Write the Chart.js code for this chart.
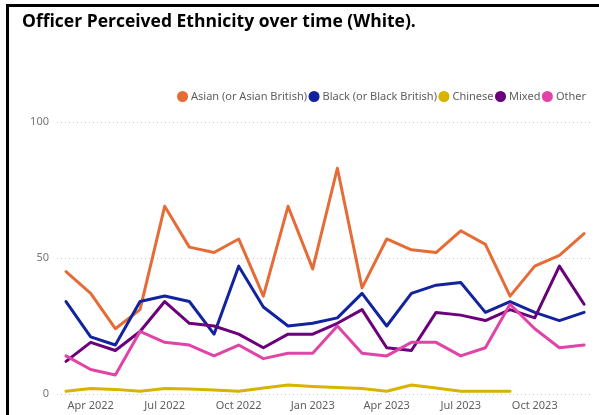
<!DOCTYPE html>
<html>
<head>
<meta charset="utf-8">
<script src="https://cdn.jsdelivr.net/npm/chart.js@4"></script>
<style>
  html, body { margin: 0; padding: 0; background: #fff; }
  #wrap { position: relative; width: 599px; height: 415px; overflow: hidden; }
  #frame { position: absolute; left: 6px; top: 4px; right: -10px; bottom: -10px;
           border-left: 3px solid #000; border-top: 3px solid #000; }
  #title { position: absolute; left: 22px; top: 9px; font-family: 'Open Sans', sans-serif;
           font-weight: bold; font-size: 17.5px; line-height: 22px; color: #000; white-space: nowrap; }
  canvas { position: absolute; left: 0; top: 0; }
</style>
</head>
<body>
<div id="wrap">
  <canvas id="c" width="599" height="415"></canvas>
  <div id="frame"></div>
  <div id="title">Officer Perceived Ethnicity over time (White).</div>
</div>
<script>
// Monthly counts by officer-perceived ethnicity
const months = ['Mar 2022','Apr 2022','May 2022','Jun 2022','Jul 2022','Aug 2022','Sep 2022','Oct 2022',
                'Nov 2022','Dec 2022','Jan 2023','Feb 2023','Mar 2023','Apr 2023','May 2023','Jun 2023',
                'Jul 2023','Aug 2023','Sep 2023','Oct 2023','Nov 2023','Dec 2023'];
const asian   = [45, 37, 24, 31, 69, 54, 52, 57, 36, 69, 46, 83, 39, 57, 53, 52, 60, 55, 36, 47, 51, 59];
const black   = [34, 21, 18, 34, 36, 34, 22, 47, 32, 25, 26, 28, 37, 25, 37, 40, 41, 30, 34, 30, 27, 30];
const chinese = [1, 2, 1.7, 1, 2, 1.8, 1.5, 1, 2.2, 3.3, 2.8, 2.4, 2, 1, 3.3, 2.2, 1, 1, 1, null, null, null];
const mixed   = [12, 19, 16, 23, 34, 26, 25, 22, 17, 22, 22, 26, 31, 17, 16, 30, 29, 27, 31, 28, 47, 33];
const other   = [14, 9, 7, 23, 19, 18, 14, 18, 13, 15, 15, 25, 15, 14, 19, 19, 14, 17, 33, 24, 17, 18];
const yTicks  = [0, 50, 100];
const xTickIdx = [1, 4, 7, 10, 13, 16, 19];

const series = [
  { label: 'Asian (or Asian British)', values: asian,   color: '#E66C37' },
  { label: 'Black (or Black British)', values: black,   color: '#12239E' },
  { label: 'Chinese',                  values: chinese, color: '#D9B300' },
  { label: 'Mixed',                    values: mixed,   color: '#6B007B' },
  { label: 'Other',                    values: other,   color: '#E044A7' }
];

const uiFont = 'Noto Sans, sans-serif';

// Leaves a little extra room between the legend row and the plot
const legendGap = {
  id: 'legendGap',
  beforeLayout(chart) {
    const lg = chart.legend;
    if (!lg || lg._gapPatched) return;
    const fit = lg.fit;
    lg.fit = function () { fit.call(this); this.height += 10; };
    lg._gapPatched = true;
  }
};

new Chart(document.getElementById('c'), {
  type: 'line',
  data: {
    datasets: series.map((s, i) => ({
      label: s.label,
      data: s.values.map((v, k) => ({ x: k, y: v })),
      borderColor: s.color,
      backgroundColor: s.color,
      borderWidth: 3,
      pointRadius: 0,
      pointHoverRadius: 0,
      tension: 0,
      borderJoinStyle: 'round',
      borderCapStyle: 'round',
      spanGaps: false,
      order: series.length - i
    }))
  },
  plugins: [legendGap],
  options: {
    responsive: false,
    animation: false,
    events: [],
    layout: { padding: { top: 87, right: 9, left: 0, bottom: 0 } },
    plugins: {
      tooltip: { enabled: false },
      legend: {
        position: 'top',
        align: 'end',
        labels: {
          usePointStyle: true,
          pointStyle: 'circle',
          boxWidth: 6,
          boxHeight: 5.7,
          padding: 4,
          color: '#605E5C',
          font: { family: uiFont, size: 11 },
          sort: (a, b) => a.datasetIndex - b.datasetIndex
        }
      }
    },
    scales: {
      x: {
        type: 'linear',
        min: -0.365,
        max: 21.24,
        afterBuildTicks: (scale) => { scale.ticks = xTickIdx.map(v => ({ value: v })); },
        afterFit: (scale) => { scale.height = 21; },
        grid: { display: false, drawTicks: false },
        border: { display: false },
        ticks: {
          autoSkip: false,
          maxRotation: 0,
          padding: 5,
          color: '#605E5C',
          font: { family: uiFont, size: 11 },
          callback: (v) => months[v]
        }
      },
      y: {
        min: 0,
        max: 100,
        afterBuildTicks: (scale) => { scale.ticks = yTicks.map(v => ({ value: v })); },
        afterFit: (scale) => { scale.width = 57; },
        grid: { color: '#C8C6C4', lineWidth: 1, drawTicks: false },
        border: { display: false, dash: [1, 3] },
        ticks: {
          padding: 8,
          color: '#777777',
          font: { family: uiFont, size: 11 }
        }
      }
    }
  }
});
</script>
</body>
</html>
